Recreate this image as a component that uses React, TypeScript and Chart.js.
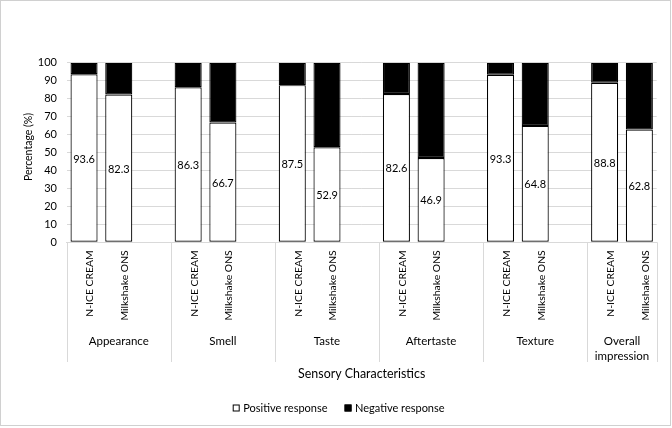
import React, { useEffect, useRef } from "react";
import { Chart, registerables } from "chart.js";

Chart.register(...registerables);

const groups: string[][] = [
  ["Appearance"],
  ["Smell"],
  ["Taste"],
  ["Aftertaste"],
  ["Texture"],
  ["Overall", "impression"],
];
const products = ["N-ICE CREAM", "Milkshake ONS"];
const niceCreamPositive = [93.6, 86.3, 87.5, 82.6, 93.3, 88.8];
const milkshakePositive = [82.3, 66.7, 52.9, 46.9, 64.8, 62.8];
const niceCreamNegative = [6.4, 13.7, 12.5, 17.4, 6.7, 11.2];
const milkshakeNegative = [17.7, 33.3, 47.1, 53.1, 35.2, 37.2];
const seriesNames = ["Positive response", "Negative response"];
const xTitle = "Sensory Characteristics";
const yTitle = "Percentage (%)";
const yMin = 0;
const yMax = 100;
const yStep = 10;

const FONT = "Lato, 'Open Sans', sans-serif";

// Build slot arrays (two products per group, a blank spacer between groups)
const labels: string[] = [];
const positive: (number | null)[] = [];
const negative: (number | null)[] = [];
const spacerIdx: number[] = [];
groups.forEach((_, gi) => {
  labels.push(products[0], products[1]);
  positive.push(niceCreamPositive[gi], milkshakePositive[gi]);
  negative.push(niceCreamNegative[gi], milkshakeNegative[gi]);
  if (gi < groups.length - 1) {
    spacerIdx.push(labels.length);
    labels.push("");
    positive.push(null);
    negative.push(null);
  }
});

const W = 672;
const H = 428;

const decorPlugin = {
  id: "decor",
  afterDatasetsDraw(chart: any) {
    const ctx = chart.ctx;
    const meta = chart.getDatasetMeta(0);
    ctx.save();
    ctx.fillStyle = "#000";
    ctx.font = `11px ${FONT}`;
    ctx.textAlign = "center";
    ctx.textBaseline = "middle";
    meta.data.forEach((el: any, i: number) => {
      const v = positive[i];
      if (v == null) return;
      const y = (el.y + el.base) / 2;
      ctx.fillText(v.toFixed(1), el.x, y + 1);
    });
    ctx.restore();
  },
  afterDraw(chart: any) {
    const ctx = chart.ctx;
    const xs = chart.scales.x;
    const area = chart.chartArea;
    ctx.save();
    // outer frame
    ctx.strokeStyle = "#d0d0d0";
    ctx.lineWidth = 1;
    ctx.strokeRect(0.5, 0.5, W - 2, H - 3);

    // group separators
    const bounds: number[] = [area.left];
    spacerIdx.forEach((k) => {
      bounds.push((xs.getPixelForValue(k) + xs.getPixelForValue(k + 1)) / 2);
    });
    bounds.push(area.right);
    ctx.strokeStyle = "#d9d9d9";
    ctx.beginPath();
    bounds.forEach((bx) => {
      const px = Math.round(bx) + 0.5;
      ctx.moveTo(px, area.bottom);
      ctx.lineTo(px, 362);
    });
    ctx.stroke();

    // group labels
    ctx.fillStyle = "#000";
    ctx.font = `11.5px ${FONT}`;
    ctx.textAlign = "center";
    ctx.textBaseline = "middle";
    groups.forEach((lines, gi) => {
      const cx = (bounds[gi] + bounds[gi + 1]) / 2;
      lines.forEach((ln, li) => ctx.fillText(ln, cx, 341 + li * 15));
    });

    // y title
    ctx.save();
    ctx.translate(29, 147);
    ctx.rotate(-Math.PI / 2);
    ctx.font = `10.5px ${FONT}`;
    ctx.fillText(yTitle, 0, 0);
    ctx.restore();

    // legend
    ctx.font = `11px ${FONT}`;
    ctx.textAlign = "left";
    const box = 7;
    const gapBoxText = 3.5;
    const gapItems = 17;
    const widths = seriesNames.map((n) => box + gapBoxText + ctx.measureText(n).width);
    let lx = 232.7;
    const ly = 408;
    seriesNames.forEach((n, i) => {
      ctx.fillStyle = i === 0 ? "#fff" : "#000";
      ctx.fillRect(lx, ly - box / 2, box, box);
      ctx.strokeStyle = "#000";
      ctx.strokeRect(lx + 0.5, ly - box / 2 + 0.5, box - 1, box - 1);
      ctx.fillStyle = "#000";
      ctx.fillText(n, lx + box + gapBoxText, ly + 0.5);
      lx += widths[i] + gapItems;
    });
    ctx.restore();
  },
};

export default function App() {
  const ref = useRef<HTMLCanvasElement | null>(null);
  useEffect(() => {
    document.body.style.margin = "0";
    const canvas = ref.current!;
    const chart = new Chart(canvas, {
      type: "bar",
      data: {
        labels,
        datasets: [
          {
            label: seriesNames[0],
            data: positive,
            backgroundColor: "#ffffff",
            borderColor: "#000000",
            borderWidth: 1.2,
            borderSkipped: false,
            barPercentage: 0.78,
            categoryPercentage: 1,
          },
          {
            label: seriesNames[1],
            data: negative,
            backgroundColor: "#000000",
            borderColor: "#000000",
            borderWidth: 1.2,
            borderSkipped: false,
            barPercentage: 0.78,
            categoryPercentage: 1,
          },
        ],
      },
      options: {
        responsive: false,
        animation: false,
        layout: { padding: { top: 62.7, right: 15.3, bottom: 40, left: 0 } },
        plugins: {
          legend: { display: false },
          tooltip: { enabled: false },
        },
        scales: {
          x: {
            stacked: true,
            grid: { display: false, drawTicks: false },
            border: { display: true, color: "#d9d9d9" },
            ticks: {
              autoSkip: false,
              minRotation: 90,
              maxRotation: 90,
              padding: 8,
              labelOffset: 6,
              color: "#000",
              font: { family: FONT, size: 10.4 },
            },
            title: {
              display: true,
              text: xTitle,
              color: "#000",
              font: { family: FONT, size: 12.4 },
              padding: { top: 0, bottom: 6.5 },
            },
            afterFit: (s: any) => {
              s.height = H - 40 - 242.3;
            },
          },
          y: {
            stacked: true,
            min: yMin,
            max: yMax,
            grid: { color: "#d9d9d9", drawTicks: false },
            border: { display: false },
            ticks: {
              stepSize: yStep,
              padding: 9.7,
              color: "#000",
              font: { family: FONT, size: 11 },
            },
            afterFit: (s: any) => {
              s.width = 66.7;
            },
          },
        },
      },
      plugins: [decorPlugin],
    });
    return () => chart.destroy();
  }, []);
  return <canvas ref={ref} width={W} height={H} style={{ display: "block" }} />;
}
